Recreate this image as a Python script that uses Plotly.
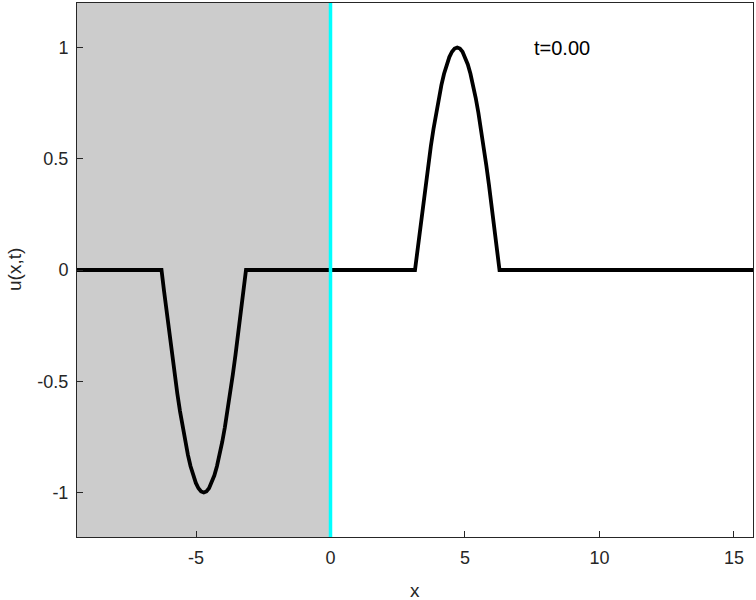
import plotly.graph_objects as go

# Wave profile u(x, 0)
x_vals = [-9.4248, -6.2832,
          -6.1850, -6.0868, -5.9887, -5.8905, -5.7923, -5.6941, -5.5960, -5.4978,
          -5.3996, -5.3014, -5.2033, -5.1051, -5.0069, -4.9087, -4.8106,
          -4.7124, -4.6142, -4.5160, -4.4179, -4.3197, -4.2215, -4.1233, -4.0252,
          -3.9270, -3.8288, -3.7306, -3.6325, -3.5343, -3.4361, -3.3379, -3.2398,
          -3.1416, 3.1416,
          3.2398, 3.3379, 3.4361, 3.5343, 3.6325, 3.7306, 3.8288, 3.9270,
          4.0252, 4.1233, 4.2215, 4.3197, 4.4179, 4.5160, 4.6142,
          4.7124, 4.8106, 4.9087, 5.0069, 5.1051, 5.2033, 5.3014, 5.3996,
          5.4978, 5.5960, 5.6941, 5.7923, 5.8905, 5.9887, 6.0868, 6.1850,
          6.2832, 15.7080]
u_vals = [0.0, 0.0,
          -0.098, -0.195, -0.290, -0.383, -0.471, -0.556, -0.634, -0.707,
          -0.773, -0.831, -0.882, -0.924, -0.957, -0.981, -0.995,
          -1.0, -0.995, -0.981, -0.957, -0.924, -0.882, -0.831, -0.773,
          -0.707, -0.634, -0.556, -0.471, -0.383, -0.290, -0.195, -0.098,
          0.0, 0.0,
          0.098, 0.195, 0.290, 0.383, 0.471, 0.556, 0.634, 0.707,
          0.773, 0.831, 0.882, 0.924, 0.957, 0.981, 0.995,
          1.0, 0.995, 0.981, 0.957, 0.924, 0.882, 0.831, 0.773,
          0.707, 0.634, 0.556, 0.471, 0.383, 0.290, 0.195, 0.098,
          0.0, 0.0]

x_range = [-9.4248, 15.7080]
y_range = [-1.2, 1.2]
shade_x = [-9.4248, 0.0]
boundary_x = 0.0
x_ticks = [-5, 0, 5, 10, 15]
x_ticklabels = ["-5", "0", "5", "10", "15"]
y_ticks = [-1, -0.5, 0, 0.5, 1]
y_ticklabels = ["-1", "-0.5", "0", "0.5", "1"]
time_label = "t=0.00"
time_pos = (8.6, 1.0)
x_title = "x"
y_title = "u(x,t)"

FONT = "Liberation Sans, Arial, sans-serif"
AX = "#262626"

fig = go.Figure()
fig.add_trace(go.Scatter(x=x_vals, y=u_vals, mode="lines",
                         line=dict(color="black", width=3.8),
                         showlegend=False))

fig.add_shape(type="rect", xref="x", yref="y",
              x0=shade_x[0], x1=shade_x[1], y0=y_range[0], y1=y_range[1],
              fillcolor="#cccccc", line=dict(width=0), layer="below")
fig.add_shape(type="line", xref="x", yref="y",
              x0=boundary_x, x1=boundary_x, y0=y_range[0], y1=y_range[1],
              line=dict(color="#00ffff", width=3.5), layer="above")

fig.add_annotation(x=time_pos[0], y=time_pos[1], text=time_label,
                   showarrow=False, xanchor="center", yanchor="middle",
                   font=dict(family=FONT, size=20, color="black"))

fig.add_annotation(x=0.5, y=0, xref="paper", yref="paper", text=x_title,
                   showarrow=False, xanchor="center", yanchor="middle",
                   yshift=-53, font=dict(family=FONT, size=19, color=AX))
fig.add_annotation(x=0, y=0.5, xref="paper", yref="paper", text=y_title,
                   showarrow=False, xanchor="center", yanchor="middle",
                   textangle=-90, xshift=-63, font=dict(family=FONT, size=19, color=AX))

axis_common = dict(showgrid=False, zeroline=False, showline=True, mirror=True,
                   linecolor=AX, linewidth=1, ticks="inside", ticklen=6,
                   tickcolor=AX, tickwidth=1, automargin=False,
                   tickfont=dict(family=FONT, size=18, color=AX))

fig.update_xaxes(range=x_range, tickvals=x_ticks, ticktext=x_ticklabels,
                 ticklabelstandoff=4, **axis_common)
fig.update_yaxes(range=y_range, tickvals=y_ticks, ticktext=y_ticklabels,
                 ticklabelstandoff=4, **axis_common)

fig.update_layout(width=756, height=600,
                  margin=dict(l=77, r=3, t=3, b=63, autoexpand=False),
                  paper_bgcolor="white", plot_bgcolor="white",
                  font=dict(family=FONT), hovermode=False)

fig.write_html("out.html", config={"displayModeBar": False},
               post_script="document.body.style.margin='0';document.body.style.overflow='hidden';")
